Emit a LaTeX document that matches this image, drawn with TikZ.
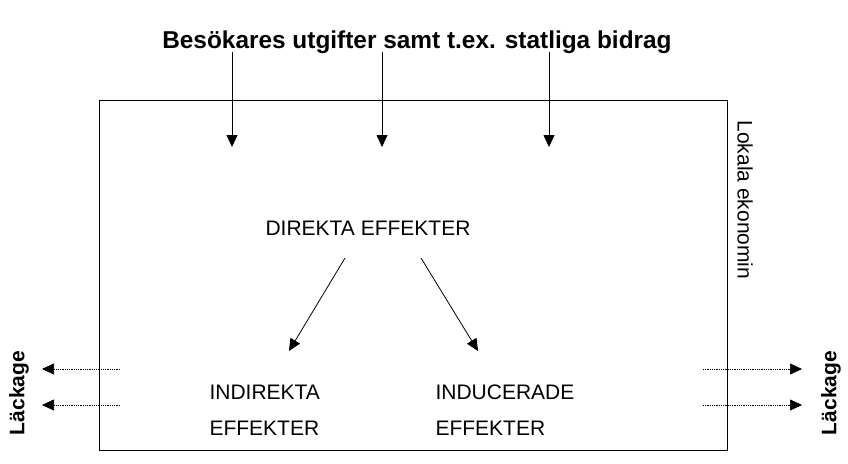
\documentclass[tikz,border=0pt]{standalone}
\usepackage{fontspec}
\setmainfont{Liberation Sans}
\usetikzlibrary{arrows.meta,positioning}
\tikzset{flow/.style={-{Triangle[length=12pt,width=11pt]},thick},
  leak/.style={flow,densely dotted,semithick},
  label/.style={font=\fontsize{21}{25}\selectfont},
  effect/.style={label,align=left},
  side/.style={rotate=90,font=\bfseries\fontsize{21}{25}\selectfont}}

\begin{document}
\begin{tikzpicture}[x=1pt,y=-1pt]
\useasboundingbox (0,0) rectangle (848,463);

\node[draw,thick,minimum width=628pt,minimum height=350pt,anchor=north west] (economy) at (99,100) {};
\node[font=\bfseries\fontsize{24.4}{28}\selectfont] (income) at (417,42) {Besökares utgifter samt t.ex. statliga bidrag};
\node[label,rotate=-90] (local) at (745,200) {Lokala ekonomin};

\node[label] (direct) at (368,228) {DIREKTA EFFEKTER};
\node[effect,anchor=west] (indirect) at (206,410) {INDIREKTA\\[11pt]EFFEKTER};
\node[effect,anchor=west] (induced) at (432,410) {INDUCERADE\\[11pt]EFFEKTER};

\node[side] (leakleft) at (19,393) {Läckage};
\node[side] (leakright) at (831,393) {Läckage};

% inflows
\foreach \x [count=\i] in {232,382,549}
  \draw[flow] (\x,52) coordinate (in\i) -- (\x,147) coordinate (out\i);

% direct to indirect and induced
\coordinate (a) at (345,258);
\coordinate (b) at (421,258);
\coordinate (c) at (289,351);
\coordinate (d) at (478,351);
\draw[flow] (a) -- (c);
\draw[flow] (b) -- (d);

% leakage
\foreach \y [count=\i] in {369,405} {
  \draw[leak] (120,\y) coordinate (ls\i) -- (42,\y) coordinate (le\i);
  \draw[leak] (703,\y) coordinate (rs\i) -- (802,\y) coordinate (re\i);
}

\end{tikzpicture}
\end{document}
